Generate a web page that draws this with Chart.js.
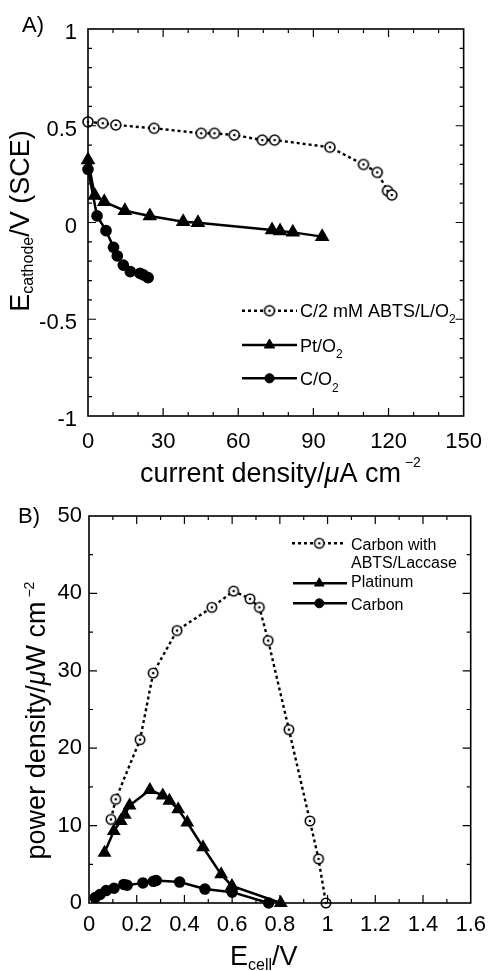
<!DOCTYPE html>
<html>
<head>
<meta charset="utf-8">
<script src="https://cdn.jsdelivr.net/npm/chart.js@4.4.1/dist/chart.umd.min.js"></script>
<style>
  html, body { margin: 0; padding: 0; background: #fff; }
  .box { position: absolute; left: 0; width: 495px; }
  #boxA { top: 0; height: 490px; }
  #boxB { top: 490px; height: 481px; }
</style>
</head>
<body>
<div class="box" id="boxA"><canvas id="chartA" width="495" height="490"></canvas></div>
<div class="box" id="boxB"><canvas id="chartB" width="495" height="481"></canvas></div>
<script>
// ---- panel A: cathode potential vs current density ----
const abtsCur = [0, 5.9, 11.1, 26.4, 45.2, 50.5, 58.4, 69.6, 74.5, 96.6, 110, 115.5, 119.6, 121.3];
const abtsE   = [0.52, 0.513, 0.504, 0.487, 0.461, 0.461, 0.452, 0.426, 0.426, 0.389, 0.30, 0.259, 0.164, 0.142];
const ptCur   = [0, 2.7, 6.5, 14.7, 24.7, 38, 43.9, 73.5, 76.7, 81.8, 93.5];
const ptE     = [0.323, 0.14, 0.107, 0.061, 0.034, 0.004, -0.001, -0.039, -0.044, -0.051, -0.073];
const cCur    = [0, 3.6, 7.2, 10.2, 11.7, 14.1, 16.9, 20.8, 22.1, 24];
const cE      = [0.275, 0.034, -0.042, -0.128, -0.173, -0.22, -0.254, -0.263, -0.271, -0.285];

// ---- panel B: power density vs cell voltage ----
const abtsV   = [0.092, 0.112, 0.214, 0.269, 0.369, 0.515, 0.606, 0.675, 0.714, 0.751, 0.838, 0.926, 0.962, 0.993];
const abtsP   = [10.8, 13.4, 21.1, 29.7, 35.2, 38.2, 40.3, 39.3, 38.2, 33.9, 22.4, 10.6, 5.7, 0];
const ptV     = [0.065, 0.104, 0.133, 0.15, 0.17, 0.255, 0.309, 0.337, 0.374, 0.412, 0.478, 0.554, 0.599, 0.804];
const ptP     = [6.5, 9.3, 10.6, 11.4, 12.6, 14.6, 13.9, 13.2, 12.1, 10.4, 7.2, 3.7, 2.2, 0];
const cV      = [0.026, 0.046, 0.072, 0.105, 0.146, 0.16, 0.226, 0.27, 0.282, 0.38, 0.486, 0.6, 0.753];
const cP      = [0.7, 1.1, 1.6, 1.9, 2.4, 2.3, 2.6, 2.8, 2.9, 2.7, 1.8, 1.4, 0];

const FONT = '"Liberation Sans", Arial, Helvetica, sans-serif';
Chart.defaults.font.family = FONT;
Chart.defaults.color = '#000';

const pts = (xs, ys) => xs.map((x, i) => ({ x: x, y: ys[i] }));

// open circle with a dot in the middle
function openCircle(r) {
    const c = document.createElement('canvas');
    const s = Math.ceil(r * 2 + 4);
    c.width = c.height = s;
    const g = c.getContext('2d');
    g.fillStyle = '#fff';
    g.strokeStyle = '#000';
    g.lineWidth = 1.6;
    g.beginPath();
    g.arc(s / 2, s / 2, r, 0, Math.PI * 2);
    g.fill();
    g.stroke();
    g.fillStyle = '#000';
    g.beginPath();
    g.arc(s / 2, s / 2, 1.3, 0, Math.PI * 2);
    g.fill();
    return c;
}

// draws pieces of text one after another (for sub/superscripts)
function richText(ctx, parts, x, y, align) {
    let w = 0;
    parts.forEach(p => {
        ctx.font = (p.it ? 'italic ' : '') + p.s + 'px ' + FONT;
        p.w = ctx.measureText(p.t).width;
        w += p.w + (p.gap || 0);
    });
    let cx = align === 'center' ? x - w / 2 : x;
    ctx.textAlign = 'left';
    ctx.textBaseline = 'alphabetic';
    parts.forEach(p => {
        ctx.font = (p.it ? 'italic ' : '') + p.s + 'px ' + FONT;
        cx += (p.gap || 0);
        ctx.fillText(p.t, cx, y + (p.dy || 0));
        cx += p.w;
    });
}

function frameAndTicks(chart, t) {
    const { ctx, chartArea: a, scales } = chart;
    ctx.save();
    ctx.strokeStyle = '#000';
    ctx.lineWidth = 1.6;
    ctx.strokeRect(a.left, a.top, a.right - a.left, a.bottom - a.top);
    ctx.lineWidth = 1.2;
    ctx.beginPath();
    const nx = Math.round((t.xMax - t.xMin) / t.xStep);
    for (let i = 1; i < nx; i++) {
        const px = scales.x.getPixelForValue(t.xMin + i * t.xStep);
        const len = i % t.xEvery === 0 ? 8 : 4;
        ctx.moveTo(px, a.bottom); ctx.lineTo(px, a.bottom - len);
        ctx.moveTo(px, a.top); ctx.lineTo(px, a.top + len);
    }
    const ny = Math.round((t.yMax - t.yMin) / t.yStep);
    for (let i = 1; i < ny; i++) {
        const py = scales.y.getPixelForValue(t.yMin + i * t.yStep);
        const len = i % t.yEvery === 0 ? 8 : 4;
        ctx.moveTo(a.left, py); ctx.lineTo(a.left + len, py);
        ctx.moveTo(a.right, py); ctx.lineTo(a.right - len, py);
    }
    ctx.stroke();
    ctx.restore();
}

function legendItems(chart, items) {
    const ctx = chart.ctx;
    ctx.save();
    items.forEach(it => {
        const ds = chart.data.datasets[it.ds];
        ctx.strokeStyle = '#000';
        ctx.lineWidth = ds.borderWidth;
        ctx.setLineDash(ds.borderDash || []);
        ctx.beginPath();
        ctx.moveTo(it.x1, it.y);
        ctx.lineTo(it.x2, it.y);
        ctx.stroke();
        ctx.setLineDash([]);
        ctx.fillStyle = '#000';
        ctx.lineWidth = 1;
        Chart.helpers.drawPoint(ctx, { pointStyle: ds.pointStyle, radius: ds.pointRadius, rotation: 0, borderWidth: 1 }, it.mx, it.y);
        ctx.fillStyle = '#000';
        it.lines.forEach(l => richText(ctx, l.parts, it.tx, l.y, 'left'));
    });
    ctx.restore();
}

const openA = openCircle(5);
const openB = openCircle(4.7);

const decorA = {
    id: 'decorA',
    afterDraw(chart) {
        const ctx = chart.ctx;
        frameAndTicks(chart, { xMin: 0, xMax: 150, xStep: 10, xEvery: 3, yMin: -1, yMax: 1, yStep: 0.1, yEvery: 5 });
        ctx.save();
        ctx.fillStyle = '#000';
        ctx.font = '22px ' + FONT;
        ctx.fillText('A)', 22, 31.7);
        richText(ctx, [
            { t: 'current density/', s: 27 },
            { t: 'μ', s: 27, it: true },
            { t: 'A cm', s: 27 },
            { t: '−2', s: 14, dy: -15, gap: 4 }
        ], 140, 481.7, 'left');
        ctx.translate(29, 221);
        ctx.rotate(-Math.PI / 2);
        richText(ctx, [
            { t: 'E', s: 27 },
            { t: 'cathode', s: 16, dy: 4 },
            { t: '/V (SCE)', s: 27 }
        ], 0, 0, 'center');
        ctx.restore();
        legendItems(chart, [
            { ds: 0, x1: 242, x2: 297, mx: 269.5, y: 310.7, tx: 300,
              lines: [{ y: 316.7, parts: [{ t: 'C/2 mM ABTS/L/O', s: 18 }, { t: '2', s: 12, dy: 6.5 }] }] },
            { ds: 1, x1: 242, x2: 297, mx: 269.5, y: 345, tx: 300,
              lines: [{ y: 351.7, parts: [{ t: 'Pt/O', s: 18 }, { t: '2', s: 12, dy: 6.5 }] }] },
            { ds: 2, x1: 242, x2: 297, mx: 269.5, y: 378.3, tx: 300,
              lines: [{ y: 385, parts: [{ t: 'C/O', s: 18 }, { t: '2', s: 12, dy: 6.5 }] }] }
        ]);
    }
};

const decorB = {
    id: 'decorB',
    afterDraw(chart) {
        const ctx = chart.ctx;
        frameAndTicks(chart, { xMin: 0, xMax: 1.6, xStep: 0.1, xEvery: 2, yMin: 0, yMax: 50, yStep: 5, yEvery: 2 });
        ctx.save();
        ctx.fillStyle = '#000';
        ctx.font = '22px ' + FONT;
        ctx.fillText('B)', 18, 33);
        richText(ctx, [
            { t: 'E', s: 27 },
            { t: 'cell', s: 16, dy: 5 },
            { t: '/V', s: 27 }
        ], 230, 475, 'left');
        ctx.translate(45, 230.5);
        ctx.rotate(-Math.PI / 2);
        richText(ctx, [
            { t: 'power density/', s: 27 },
            { t: 'μ', s: 27, it: true },
            { t: 'W cm', s: 27 },
            { t: '−2', s: 14, dy: -11, gap: 4 }
        ], 0, 0, 'center');
        ctx.restore();
        legendItems(chart, [
            { ds: 0, x1: 292, x2: 343, mx: 319.3, y: 53.3, tx: 351,
              lines: [{ y: 60, parts: [{ t: 'Carbon with', s: 16 }] },
                      { y: 78.3, parts: [{ t: 'ABTS/Laccase', s: 16 }] }] },
            { ds: 1, x1: 293, x2: 347, mx: 319.3, y: 93.3, tx: 351,
              lines: [{ y: 96.7, parts: [{ t: 'Platinum', s: 16 }] }] },
            { ds: 2, x1: 293, x2: 347, mx: 319.3, y: 113.3, tx: 351,
              lines: [{ y: 120, parts: [{ t: 'Carbon', s: 16 }] }] }
        ]);
    }
};

// plain numbers: 1, 0.5, -1 (no trailing .0)
const plainNum = v => String(Math.round(v * 100) / 100);

function axisOpts(min, max, step, pad, extra, tickExtra) {
    return Object.assign({
        type: 'linear',
        min: min,
        max: max,
        ticks: Object.assign({ stepSize: step, font: { size: 22 }, color: '#000', padding: pad, callback: plainNum }, tickExtra),
        grid: { display: false, drawTicks: false },
        border: { display: false }
    }, extra);
}

new Chart(document.getElementById('chartA'), {
    type: 'scatter',
    data: {
        datasets: [
            { label: 'C/2 mM ABTS/L/O2', data: pts(abtsCur, abtsE), showLine: true, clip: false,
              borderColor: '#000', borderWidth: 2.4, borderDash: [3, 3],
              pointStyle: openA, pointRadius: 5, pointBackgroundColor: '#fff', pointBorderColor: '#000' },
            { label: 'Pt/O2', data: pts(ptCur, ptE), showLine: true, clip: false,
              borderColor: '#000', borderWidth: 2.5,
              pointStyle: 'triangle', pointRadius: 6, pointBackgroundColor: '#000', pointBorderColor: '#000' },
            { label: 'C/O2', data: pts(cCur, cE), showLine: true, clip: false,
              borderColor: '#000', borderWidth: 2.5,
              pointStyle: 'circle', pointRadius: 4.6, pointBackgroundColor: '#000', pointBorderColor: '#000' }
        ]
    },
    options: {
        responsive: false,
        animation: false,
        layout: { padding: { top: 29, right: 20, left: 0, bottom: 0 } },
        scales: {
            x: axisOpts(0, 150, 30, 13, { afterFit: s => { s.height = 74; } }),
            y: axisOpts(-1, 1, 0.5, 11, { afterFit: s => { s.width = 88; } }, { labelOffset: 4 })
        },
        plugins: { legend: { display: false }, tooltip: { enabled: false } }
    },
    plugins: [decorA]
});

new Chart(document.getElementById('chartB'), {
    type: 'scatter',
    data: {
        datasets: [
            { label: 'Carbon with ABTS/Laccase', data: pts(abtsV, abtsP), showLine: true, clip: false,
              borderColor: '#000', borderWidth: 2.4, borderDash: [3, 3],
              pointStyle: openB, pointRadius: 5, pointBackgroundColor: '#fff', pointBorderColor: '#000' },
            { label: 'Platinum', data: pts(ptV, ptP), showLine: true, clip: false,
              borderColor: '#000', borderWidth: 2.5,
              pointStyle: 'triangle', pointRadius: 5.5, pointBackgroundColor: '#000', pointBorderColor: '#000' },
            { label: 'Carbon', data: pts(cV, cP), showLine: true, clip: false,
              borderColor: '#000', borderWidth: 2.5,
              pointStyle: 'circle', pointRadius: 4.5, pointBackgroundColor: '#000', pointBorderColor: '#000' }
        ]
    },
    options: {
        responsive: false,
        animation: false,
        layout: { padding: { top: 26, right: 20, left: 0, bottom: 0 } },
        scales: {
            x: axisOpts(0, 1.6, 0.2, 9, { afterFit: s => { s.height = 68; } }),
            y: axisOpts(0, 50, 10, 7, { afterFit: s => { s.width = 89; } })
        },
        plugins: { legend: { display: false }, tooltip: { enabled: false } }
    },
    plugins: [decorB]
});
</script>
</body>
</html>
